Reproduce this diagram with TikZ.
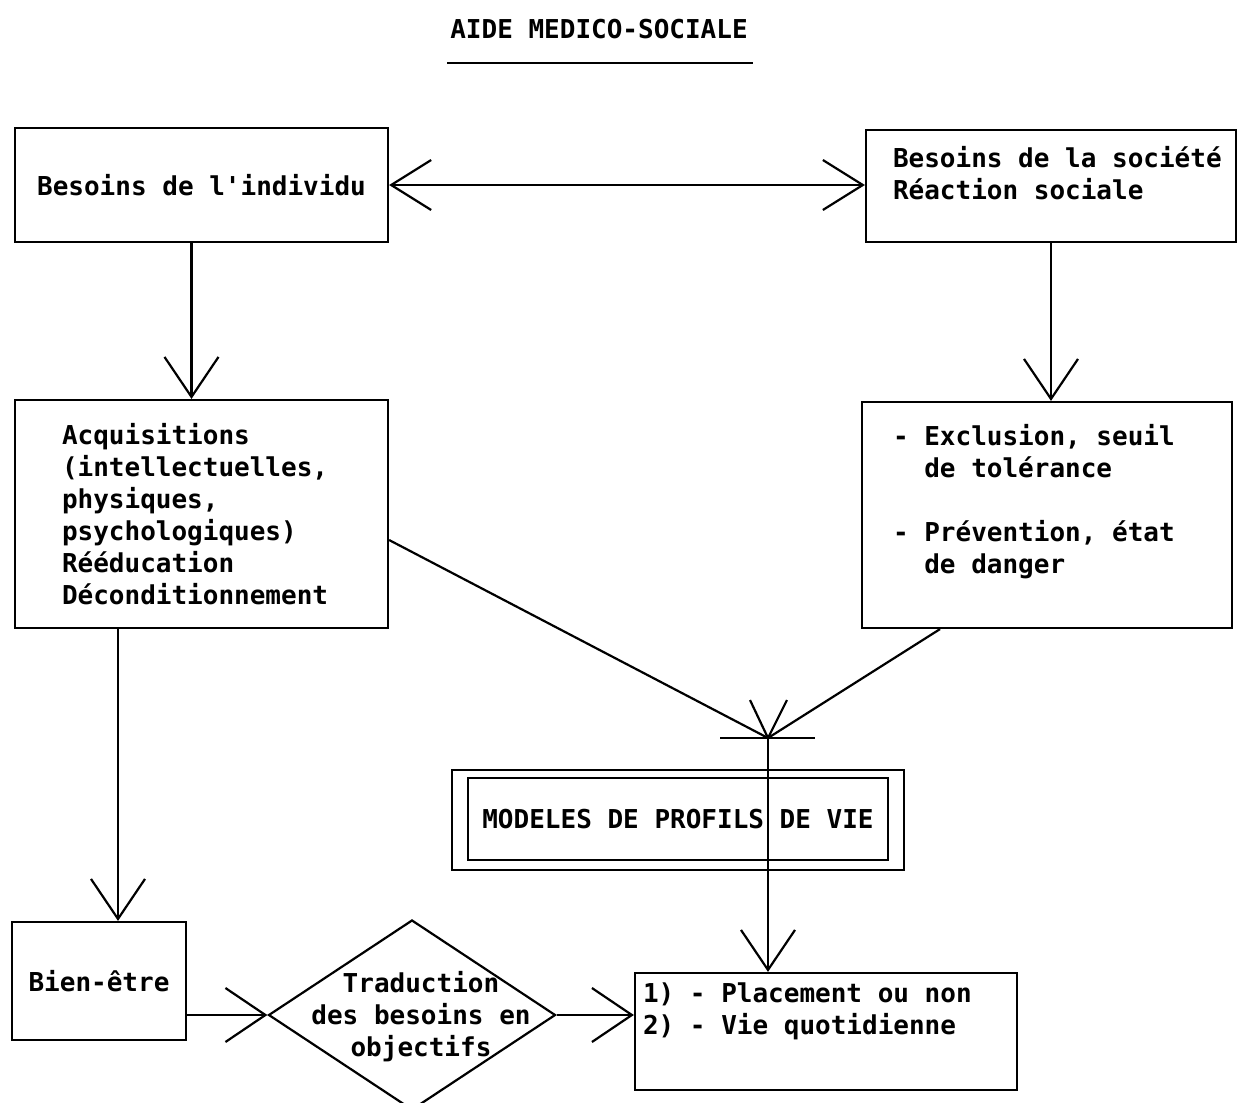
\documentclass[tikz,border=0pt]{standalone}
\usepackage{fontspec}
\setmonofont{DejaVu Sans Mono}
\usetikzlibrary{arrows.meta,shapes.geometric}
\tikzset{
  txt/.style={font=\ttfamily\bfseries\fontsize{26}{32}\selectfont, inner sep=0pt, align=left},
  box/.style={draw, rectangle, inner sep=0pt},
  arr/.style={-{Straight Barb[length=40pt,width=54pt]}},
  dblarr/.style={{Straight Barb[length=40pt,width=50pt]}-{Straight Barb[length=40pt,width=50pt]}}
}
\begin{document}
\begin{tikzpicture}[x=1pt,y=-1pt,line width=2.2pt]
  \useasboundingbox (0,0) rectangle (1237,1103);

  \node (title) [txt] at (599,29) {AIDE MEDICO-SOCIALE};
  \draw (447,63) -- (753,63);

  \node (ind) [box, txt, minimum width=373pt, minimum height=114pt] at (201.5,185) {Besoins de l'individu};
  \node (soc) [box, minimum width=370pt, minimum height=112pt] at (1051,186) {};
  \node (soctxt) [txt, anchor=north west] at ([shift={(27,16)}]soc.north west) {Besoins de la société\\Réaction sociale};

  \node (acq) [box, minimum width=373pt, minimum height=228pt] at (201.5,514) {};
  \node (acqtxt) [txt, anchor=north west] at ([shift={(47,23)}]acq.north west)
    {Acquisitions\\(intellectuelles,\\physiques,\\psychologiques)\\Rééducation\\Déconditionnement};
  \node (excl) [box, minimum width=370pt, minimum height=226pt] at (1047,515) {};
  \node (excltxt) [txt, anchor=north west] at ([shift={(31,22)}]excl.north west)
    {- Exclusion, seuil\\\phantom{- }de tolérance\\[32pt]- Prévention, état\\\phantom{- }de danger};

  \coordinate (jn) at (768,738);
  \node (mod) [box, minimum width=452pt, minimum height=100pt] at (678,820) {};
  \node (modin) [box, txt, minimum width=420pt, minimum height=82pt] at (678,819) {MODELES DE PROFILS DE VIE};

  \node (bien) [box, txt, minimum width=174pt, minimum height=118pt] at (99,981) {Bien-être};
  \node (trad) [draw, diamond, inner sep=0pt, minimum width=287pt, minimum height=190pt] at (412,1015) {};
  \node (tradtxt) [txt, align=center] at (421,1017) {Traduction\\des besoins en\\objectifs};
  \node (plac) [box, minimum width=382pt, minimum height=117pt] at (826,1031.5) {};
  \node (plactxt) [txt, anchor=north west] at ([shift={(8,10)}]plac.north west)
    {1) - Placement ou non\\2) - Vie quotidienne};

  \draw [dblarr] (ind.east) -- (ind.east -| soc.west);
  \draw [arr] ([shift={(-10,0)}]ind.south) -- ([shift={(-10,0)}]acq.north);
  \draw [arr] (soc.south) -- (soc.south |- excl.north);

  \draw ([shift={(0,26)}]acq.east) -- (jn);
  \draw ([shift={(-107,0)}]excl.south) -- (jn);
  \draw ([shift={(-18,-38)}]jn) -- (jn) -- ([shift={(19,-38)}]jn);
  \draw ([shift={(-48,0)}]jn) -- ([shift={(47,0)}]jn);
  \draw [arr] (jn) -- (jn |- plac.north);

  \coordinate (bx) at ([shift={(19,0)}]bien.north);
  \draw [arr] (acq.south -| bx) -- (bx);
  \draw [arr] (bien.east |- trad.west) -- (trad.west);
  \draw [arr] (trad.east) -- (trad.east -| plac.west);
\end{tikzpicture}
\end{document}
